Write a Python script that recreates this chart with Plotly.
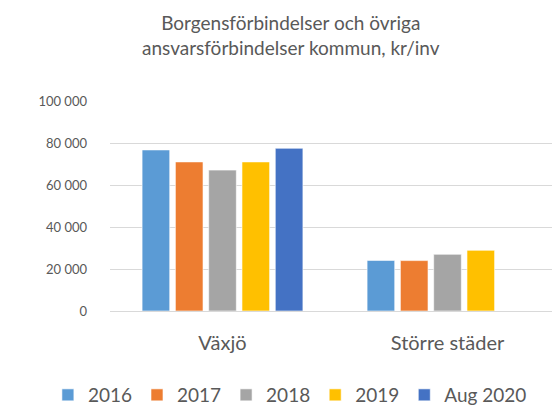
import plotly.graph_objects as go

# Data (kr per inhabitant).
CATEGORIES = ["Växjö", "Större städer"]
SERIES = ["2016", "2017", "2018", "2019", "Aug 2020"]
VALUES = {
    "2016": [76700, 24100],
    "2017": [71000, 24000],
    "2018": [67100, 27000],
    "2019": [71000, 28900],
    "Aug 2020": [77500, None],
}
Y_TICKS = [0, 20000, 40000, 60000, 80000, 100000]

# Office-style palette.
COLORS = {
    "2016": "#5B9BD5",
    "2017": "#ED7D31",
    "2018": "#A5A5A5",
    "2019": "#FFC000",
    "Aug 2020": "#4472C4",
}

FONT = "Lato"
TEXT_COLOR = "#595959"
GRID_COLOR = "#D9D9D9"

fig = go.Figure()
for name in SERIES:
    fig.add_trace(
        go.Bar(
            x=CATEGORIES,
            y=VALUES[name],
            name=name,
            marker=dict(color=COLORS[name], line=dict(color="rgba(255,255,255,0.6)", width=1)),
        )
    )

# The page has an 8px body margin, so margins are shifted by that amount.
fig.update_layout(
    width=560,
    height=407,
    margin=dict(l=102, r=8, t=93, b=104, autoexpand=False),
    paper_bgcolor="white",
    plot_bgcolor="white",
    separators=", ",
    font=dict(family=FONT, color=TEXT_COLOR),
    barmode="group",
    bargap=0.26,
    bargroupgap=0.17,
    title=dict(
        text="Borgensförbindelser och övriga<br>ansvarsförbindelser kommun, kr/inv",
        x=0.505,
        xanchor="center",
        xref="container",
        y=0.946,
        yanchor="top",
        yref="container",
        font=dict(family=FONT, size=19, color=TEXT_COLOR),
    ),
    legend=dict(
        orientation="h",
        x=-0.138,
        xanchor="left",
        y=-0.4,
        yanchor="middle",
        font=dict(family=FONT, size=19, color=TEXT_COLOR),
        itemwidth=30,
    ),
    showlegend=True,
)

fig.update_yaxes(
    range=[0, 100000],
    tickvals=Y_TICKS,
    tickformat=",d",
    showgrid=True,
    gridcolor=GRID_COLOR,
    gridwidth=1,
    zeroline=True,
    zerolinecolor=GRID_COLOR,
    zerolinewidth=1,
    showline=False,
    ticklabelstandoff=22,
    tickfont=dict(family=FONT, size=13, color=TEXT_COLOR),
)
fig.update_xaxes(
    showline=False,
    showgrid=False,
    ticklabelstandoff=18,
    tickfont=dict(family=FONT, size=20, color=TEXT_COLOR),
)

fig.write_html("out.html")
